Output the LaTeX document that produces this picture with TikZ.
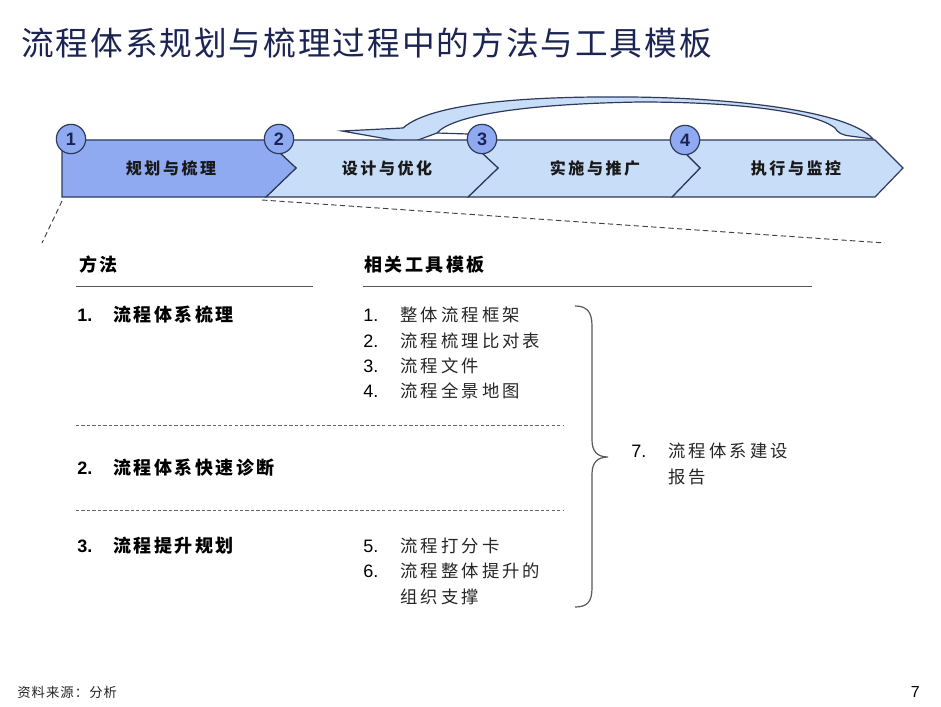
\documentclass[tikz,border=0pt]{standalone}
\usepackage{fontspec}
\setmainfont{Liberation Sans}
\newfontfamily\cjkT[LetterSpace=6]{Noto Sans CJK SC}
\newfontfamily\cjkA[LetterSpace=18]{Noto Sans CJK SC}
\newfontfamily\cjkM[LetterSpace=14]{Noto Sans CJK SC}
\newfontfamily\cjkC[LetterSpace=16]{Noto Sans CJK SC}
\newfontfamily\cjkF[LetterSpace=8]{Noto Sans CJK SC}
\definecolor{dblue}{HTML}{8FAAF1}
\definecolor{lblue}{HTML}{C8DDF7}
\definecolor{edgec}{HTML}{2E3A5C}
\definecolor{navy}{HTML}{1B2452}
\definecolor{linec}{HTML}{555555}
\tikzset{
  chev/.style={draw=edgec, line width=0.9pt, line join=miter},
  arrowshape/.style={draw=edgec, fill=lblue, line width=0.9pt},
  circ/.style={circle, draw=edgec, fill=dblue, line width=0.9pt, minimum size=22pt, inner sep=0pt, font=\fontsize{13.5}{14}\selectfont\bfseries, text=navy},
  chevlabel/.style={font=\fontsize{12}{14}\selectfont\cjkC\bfseries, text=black!90, inner sep=0pt},
  head/.style={anchor=west, font=\fontsize{13.5}{15}\selectfont\cjkM\bfseries, inner sep=0pt},
  meth/.style={anchor=west, font=\fontsize{13.5}{15}\selectfont\cjkM\bfseries, inner sep=0pt},
  methnum/.style={anchor=west, font=\fontsize{13.5}{15}\selectfont\bfseries, inner sep=0pt},
  tool/.style={anchor=west, font=\fontsize{13}{15}\selectfont\cjkA, inner sep=0pt, text=black!85},
  toolnum/.style={anchor=west, font=\fontsize{13.5}{15}\selectfont, inner sep=0pt},
  dashline/.style={draw=black!75, dash pattern=on 4pt off 2.5pt, line width=0.7pt},
  sepline/.style={draw=black!60, dash pattern=on 2.5pt off 1.6pt, line width=0.5pt},
  rule/.style={draw=linec, line width=0.7pt},
  bracec/.style={draw=black!65, line width=0.9pt}
}
\begin{document}
\begin{tikzpicture}[x=0.75pt,y=-0.75pt]
\useasboundingbox (0,0) rectangle (941,706);
\fill[white] (0,0) rectangle (941,706);

% title
\node[anchor=west, inner sep=0pt, text=navy, font=\fontsize{24.5}{28}\selectfont\cjkT] (title) at (21,43) {流程体系规划与梳理过程中的方法与工具模板};

% curved return arrow
\draw[arrowshape] (873,139) .. controls (850,112) and (740,98) .. (630,97)
  .. controls (520,96) and (430,104) .. (403,128) -- (342,131) -- (410,143) -- (437,133)
  .. controls (452,116) and (520,104) .. (640,102)
  .. controls (740,102) and (815,112) .. (835,128)
  .. controls (838,133) and (842,135) .. (850,136) -- cycle;
\draw[edgec, line width=0.9pt] (437,133) -- (468,134);

% chevrons (right to left)
\draw[chev, fill=lblue] (672,140) -- (875,140) -- (903,168) -- (875,197) -- (672,197) -- (700,168) -- cycle;
\draw[chev, fill=lblue] (468,140) -- (672,140) -- (700,168) -- (672,197) -- (468,197) -- (498,168) -- cycle;
\draw[chev, fill=lblue] (266,140) -- (468,140) -- (498,168) -- (468,197) -- (266,197) -- (296,168) -- cycle;
\draw[chev, fill=dblue] (62,140) -- (266,140) -- (296,168) -- (266,197) -- (62,197) -- cycle;

% chevron labels
\node[chevlabel] (l1) at (171,168) {规划与梳理};
\node[chevlabel] (l2) at (387,168) {设计与优化};
\node[chevlabel] (l3) at (595,168) {实施与推广};
\node[chevlabel] (l4) at (796,168) {执行与监控};

% numbered circles
\node[circ] (c1) at (71,139) {1};
\node[circ] (c2) at (279,139) {2};
\node[circ] (c3) at (482,139) {3};
\node[circ] (c4) at (685,140) {4};

% zoom dashed lines
\coordinate (z1a) at (62,201);
\coordinate (z1b) at (42,243);
\coordinate (z2a) at (262,200);
\coordinate (z2b) at (885,243);
\draw[dashline] (z1a) -- (z1b);
\draw[dashline] (z2a) -- (z2b);

% headers
\node[head] (h1) at (79,265) {方法};
\node[head] (h2) at (364,265) {相关工具模板};
\draw[rule] (76,286) -- (313,286);
\draw[rule] (363,286) -- (812,286);

% methods
\node[methnum] (m1n) at (77,315) {1.};
\node[meth] (m1) at (113,315) {流程体系梳理};
\node[methnum] (m2n) at (77,468) {2.};
\node[meth] (m2) at (113,468) {流程体系快速诊断};
\node[methnum] (m3n) at (77,546) {3.};
\node[meth] (m3) at (113,546) {流程提升规划};

% separators
\draw[sepline] (76,425) -- (563,425);
\draw[sepline] (76,510) -- (563,510);

% tools
\node[toolnum] (t1n) at (363,315) {1.};
\node[tool] (t1) at (400,315) {整体流程框架};
\node[toolnum] (t2n) at (363,341) {2.};
\node[tool] (t2) at (400,341) {流程梳理比对表};
\node[toolnum] (t3n) at (363,366) {3.};
\node[tool] (t3) at (400,366) {流程文件};
\node[toolnum] (t4n) at (363,391) {4.};
\node[tool] (t4) at (400,391) {流程全景地图};
\node[toolnum] (t5n) at (363,546) {5.};
\node[tool] (t5) at (400,546) {流程打分卡};
\node[toolnum] (t6n) at (363,571) {6.};
\node[tool] (t6) at (400,571) {流程整体提升的};
\node[tool] (t6b) at (400,597) {组织支撑};

% brace
\draw[bracec] (575,306) .. controls (587,306) and (592,312) .. (592,326)
  -- (592,440) .. controls (592,451) and (597,457) .. (608,457)
  .. controls (597,457) and (592,463) .. (592,474)
  -- (592,588) .. controls (592,602) and (587,607) .. (575,607);

% report
\node[toolnum] (t7n) at (631,451) {7.};
\node[tool] (t7) at (668,451) {流程体系建设};
\node[tool] (t7b) at (668,477) {报告};

% footer
\node[anchor=west, inner sep=0pt, font=\fontsize{10}{11}\selectfont\cjkF, text=black!85] (src) at (17,692) {资料来源：分析};
\node[anchor=east, inner sep=0pt, font=\fontsize{12}{12}\selectfont] (pg) at (920,692) {7};
\end{tikzpicture}
\end{document}
